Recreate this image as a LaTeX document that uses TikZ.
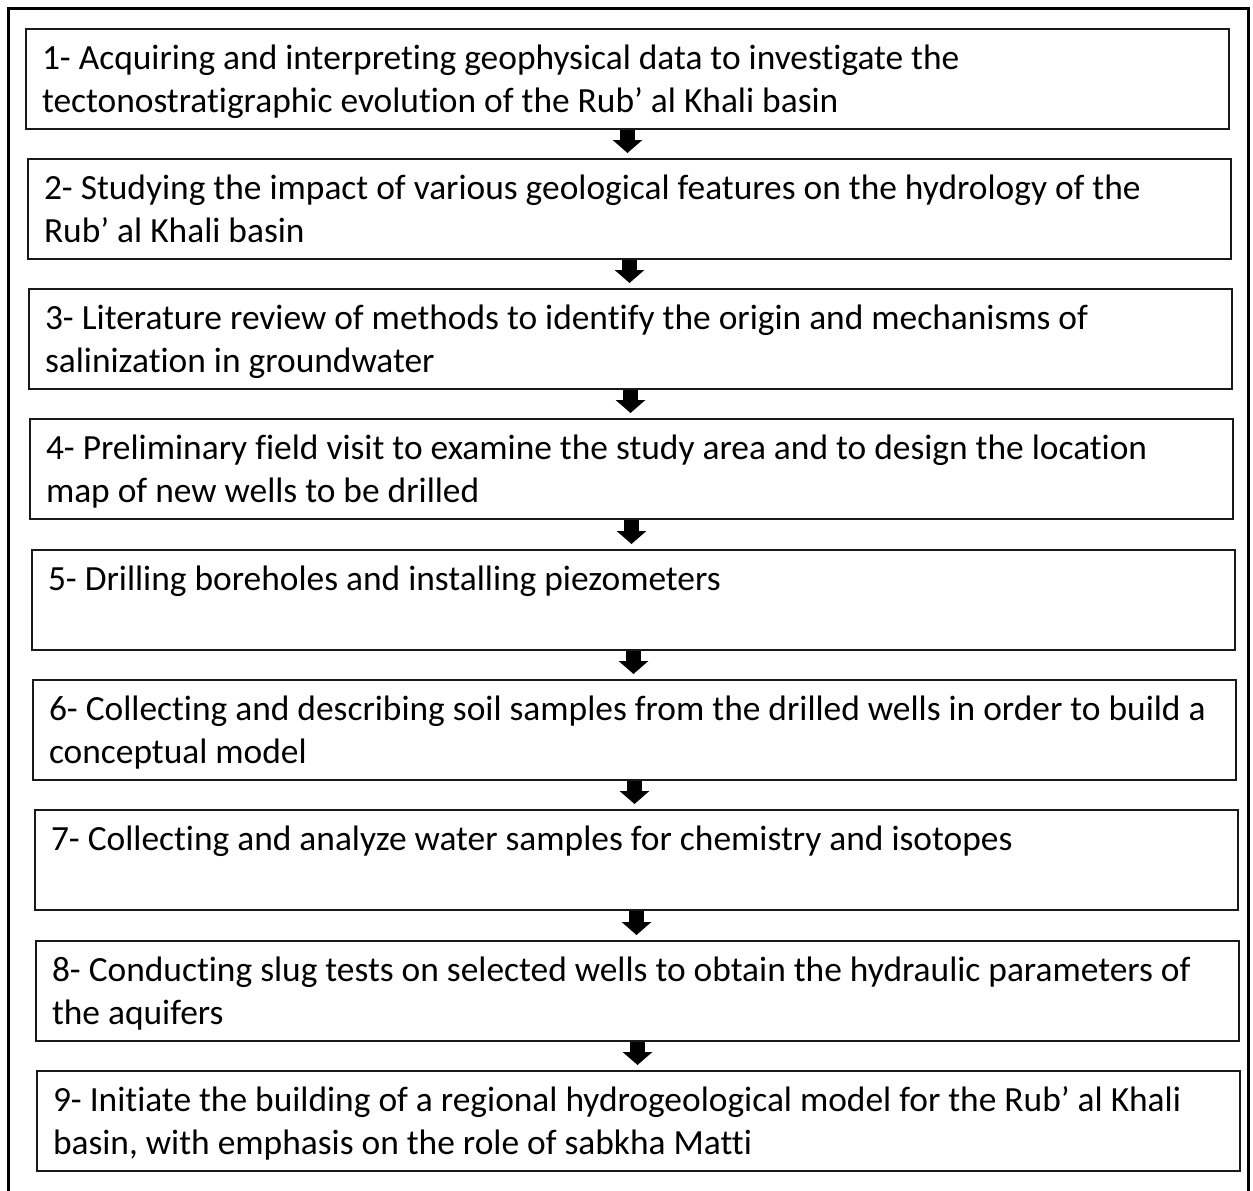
\documentclass[tikz,border=0pt]{standalone}
\usepackage{fontspec}
\setmainfont{Carlito}[Ligatures=NoCommon]
\usetikzlibrary{arrows.meta}

\tikzset{
  stepbox/.style={draw=black!90, line width=2pt, anchor=north west, inner xsep=16pt, inner ysep=10pt,
    minimum width=1203pt, minimum height=100pt, font=\fontsize{35.4}{43}\selectfont},
  steparrow/.style={line width=15pt, -{Triangle[width=29pt,length=13pt]}, shorten >=5pt},
  frame/.style={line width=3pt}
}
\newcommand{\steptext}[1]{\parbox[b][80pt][t]{1171pt}{\raggedright\strut #1}}

\begin{document}
\begin{tikzpicture}[x=1pt,y=-1pt]
\useasboundingbox (0,0) rectangle (1253,1191);

% outer frame, cut at the bottom
\draw[frame] (8,1195) |- (1248,8) -- (1248,1195);

\node[stepbox] (s1) at (25,28) {\steptext{1- Acquiring and interpreting geophysical data to investigate the\\ tectonostratigraphic evolution of the Rub’ al Khali basin}};
\node[stepbox] (s2) at (27,158) {\steptext{2- Studying the impact of various geological features on the hydrology of the\\ Rub’ al Khali basin}};
\node[stepbox] (s3) at (28,288) {\steptext{3- Literature review of methods to identify the origin and mechanisms of\\ salinization in groundwater}};
\node[stepbox] (s4) at (29,418) {\steptext{4- Preliminary field visit to examine the study area and to design the location\\ map of new wells to be drilled}};
\node[stepbox] (s5) at (31,549) {\steptext{5- Drilling boreholes and installing piezometers}};
\node[stepbox] (s6) at (32,679) {\steptext{6- Collecting and describing soil samples from the drilled wells in order to build a\\ conceptual model}};
\node[stepbox] (s7) at (34,809) {\steptext{7- Collecting and analyze water samples for chemistry and isotopes}};
\node[stepbox] (s8) at (35,940) {\steptext{8- Conducting slug tests on selected wells to obtain the hydraulic parameters of\\ the aquifers}};
\node[stepbox] (s9) at (36,1070) {\steptext{9- Initiate the building of a regional hydrogeological model for the Rub’ al Khali\\ basin, with emphasis on the role of sabkha Matti}};

% arrows between the steps
\draw[steparrow] (s1.south) -- (s1.south |- s2.north);
\draw[steparrow] (s2.south) -- (s2.south |- s3.north);
\draw[steparrow] (s3.south) -- (s3.south |- s4.north);
\draw[steparrow] (s4.south) -- (s4.south |- s5.north);
\draw[steparrow] (s5.south) -- (s5.south |- s6.north);
\draw[steparrow] (s6.south) -- (s6.south |- s7.north);
\draw[steparrow] (s7.south) -- (s7.south |- s8.north);
\draw[steparrow] (s8.south) -- (s8.south |- s9.north);

\end{tikzpicture}
\end{document}
